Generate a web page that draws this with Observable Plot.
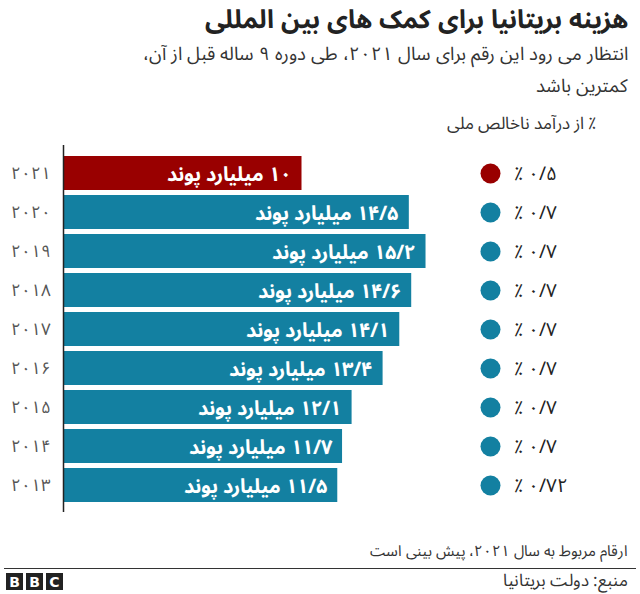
<!DOCTYPE html>
<html>
<head>
<meta charset="utf-8">
<script src="https://cdn.jsdelivr.net/npm/d3@7"></script>
<script src="https://cdn.jsdelivr.net/npm/@observablehq/plot@0.6"></script>
<style>
  @font-face { font-family: "NSA"; font-weight: 400;
    src: local("Noto Sans Arabic"), local("NotoSansArabic-Regular"), local("Noto Sans Arabic Regular");
    ascent-override: 95%; descent-override: 35%; line-gap-override: 0%; }
  @font-face { font-family: "NSA"; font-weight: 700;
    src: local("Noto Sans Arabic Bold"), local("NotoSansArabic-Bold");
    ascent-override: 95%; descent-override: 35%; line-gap-override: 0%; }
  html, body { margin: 0; padding: 0; background: #fff; }
  body { width: 640px; height: 594px; position: relative; overflow: hidden;
         font-family: "NSA", "Noto Sans Arabic", "DejaVu Sans", sans-serif; color: #222; }
  .rtl { direction: rtl; text-align: right; position: absolute; right: 12px; margin: 0; white-space: nowrap; }
  #title { top: 4px; font-size: 25.5px; line-height: 34px; font-weight: bold; color: #222; }
  #subtitle { top: 38px; font-size: 18.5px; line-height: 32px; color: #333; }
  #unit { top: 113px; right: 44px; font-size: 17px; line-height: 22px; color: #333; }
  #chart { position: absolute; left: 0; top: 140px; }
  #note { top: 542px; font-size: 15px; line-height: 20px; color: #333; }
  #rule { position: absolute; left: 4px; right: 4px; top: 568px; height: 1px; background: #333; }
  #source { top: 571px; font-size: 17px; line-height: 21px; color: #333; }
  #logo { position: absolute; left: 6px; top: 573px; display: flex; gap: 3px; }
  #logo span { width: 17px; height: 17px; background: #222; color: #fff; font: bold 14px "DejaVu Sans", sans-serif;
               display: flex; align-items: center; justify-content: center; }
</style>
</head>
<body>
<div id="title" class="rtl">هزینه بریتانیا برای کمک های بین المللی</div>
<div id="subtitle" class="rtl">انتظار می رود این رقم برای سال ۲۰۲۱، طی دوره ۹ ساله قبل از آن،<br>کمترین باشد</div>
<div id="unit" class="rtl">٪ از درآمد ناخالص ملی</div>
<div id="chart"></div>
<div id="note" class="rtl">ارقام مربوط به سال ۲۰۲۱، پیش بینی است</div>
<div id="rule"></div>
<div id="logo"><span>B</span><span>B</span><span>C</span></div>
<div id="source" class="rtl">منبع: دولت بریتانیا</div>
<script>
// Data
const years = [2021, 2020, 2019, 2018, 2017, 2016, 2015, 2014, 2013];
const spending = [10, 14.5, 15.2, 14.6, 14.1, 13.4, 12.1, 11.7, 11.5]; // billion pounds
const gniShare = [0.5, 0.7, 0.7, 0.7, 0.7, 0.7, 0.7, 0.7, 0.72];     // % of GNI
const unitLabel = "میلیارد پوند";

const red = "#990000", blue = "#1380A1";
const faDigits = "۰۱۲۳۴۵۶۷۸۹";
const toFa = (v) => String(v).replace(/[0-9]/g, (d) => faDigits[+d]).replace(".", "/");
const RLE = "\u202B", PDF = "\u202C";

const rows = years.map((y, i) => ({
  year: y,
  value: spending[i],
  pct: gniShare[i],
  forecast: i === 0
}));

const fontFam = '"NSA", "Noto Sans Arabic", "DejaVu Sans", sans-serif';

const chart = Plot.plot({
  width: 640,
  height: 375,
  marginTop: 5,
  marginBottom: 3,
  marginLeft: 63,
  marginRight: 150,
  style: { fontFamily: fontFam, background: "transparent" },
  x: { domain: [0, 20], range: [63, 540], axis: null },
  y: { domain: years, range: [9, 369], padding: 0.125, label: null },
  marks: [
    Plot.barX(rows, {
      y: "year", x: "value",
      fill: (d) => d.forecast ? red : blue
    }),
    Plot.text(rows, {
      y: "year", x: "value",
      text: (d) => RLE + toFa(d.value) + " " + unitLabel + PDF,
      textAnchor: "end", dx: -11, dy: 1,
      fill: "white", fontWeight: "bold", fontSize: 20
    }),
    Plot.axisY({
      tickSize: 0, tickPadding: 13, fontSize: 17, color: "#555",
      tickFormat: (y) => toFa(y)
    }),
    Plot.ruleX([0], { stroke: "#222", strokeWidth: 1.5 }),
    Plot.dot(rows, {
      y: "year", frameAnchor: "right", r: 10,
      fill: (d) => d.forecast ? red : blue
    }),
    Plot.text(rows, {
      y: "year", frameAnchor: "right", dx: 23, textAnchor: "start",
      text: (d) => "٪ " + toFa(d.pct),
      fill: "#222", fontSize: 19
    })
  ]
});
document.getElementById("chart").appendChild(chart);
</script>
</body>
</html>
